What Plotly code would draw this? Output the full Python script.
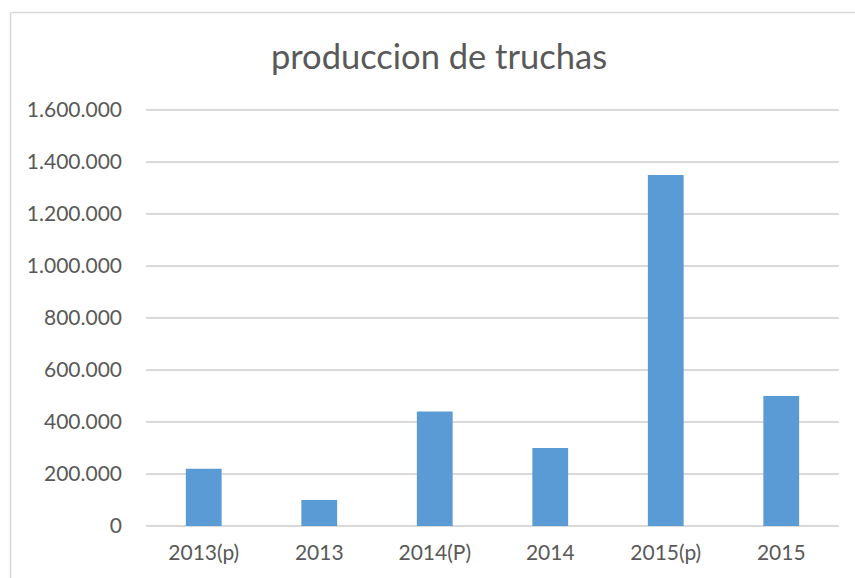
import plotly.graph_objects as go

categories = ["2013(p)", "2013", "2014(P)", "2014", "2015(p)", "2015"]
values = [220000, 100000, 440000, 300000, 1350000, 500000]
y_ticks = [0, 200000, 400000, 600000, 800000, 1000000, 1200000, 1400000, 1600000]

W, H = 855, 578
L, R, T, B = 146, 16, 109, 52
pw, ph = W - L - R, H - T - B

def px(x):
    return (x - L) / pw

def py(y):
    return (H - B - y) / ph

fig = go.Figure(go.Bar(x=categories, y=values, marker_color="#5b9bd5",
                       marker_line_width=0))

font = "Lato, 'Open Sans', sans-serif"
fig.update_layout(
    width=W, height=H,
    margin=dict(l=L, r=R, t=T, b=B),
    paper_bgcolor="white", plot_bgcolor="white",
    separators=",.",
    bargap=0.69,
    showlegend=False,
    title=dict(text="produccion de truchas", x=(439) / W, xanchor="center",
               y=1 - 57 / H, yanchor="middle",
               font=dict(family=font, size=34.5, color="#595959")),
    font=dict(family=font, size=21, color="#595959"),
    shapes=[
        dict(type="line", xref="paper", yref="paper", x0=px(10.5), x1=px(10.5),
             y0=py(12.5), y1=py(700), line=dict(color="#d9d9d9", width=1.5)),
        dict(type="line", xref="paper", yref="paper", x0=px(10.5), x1=px(1000),
             y0=py(12.5), y1=py(12.5), line=dict(color="#d9d9d9", width=1.5)),
    ],
)
fig.update_yaxes(range=[0, 1604000], tickvals=y_ticks, tickformat=",d",
                 showgrid=True, gridcolor="#d9d9d9", gridwidth=1.5,
                 zeroline=True, zerolinecolor="#d9d9d9", zerolinewidth=1.5,
                 showline=False, ticks="", ticklabelstandoff=23,
                 tickfont=dict(size=21, color="#595959"))
fig.update_xaxes(showgrid=False, showline=False, ticks="",
                 ticklabelstandoff=12,
                 tickfont=dict(size=21, color="#595959"))

fig.write_html("out.html", config={"displayModeBar": False},
               post_script="document.body.style.margin='0';")
